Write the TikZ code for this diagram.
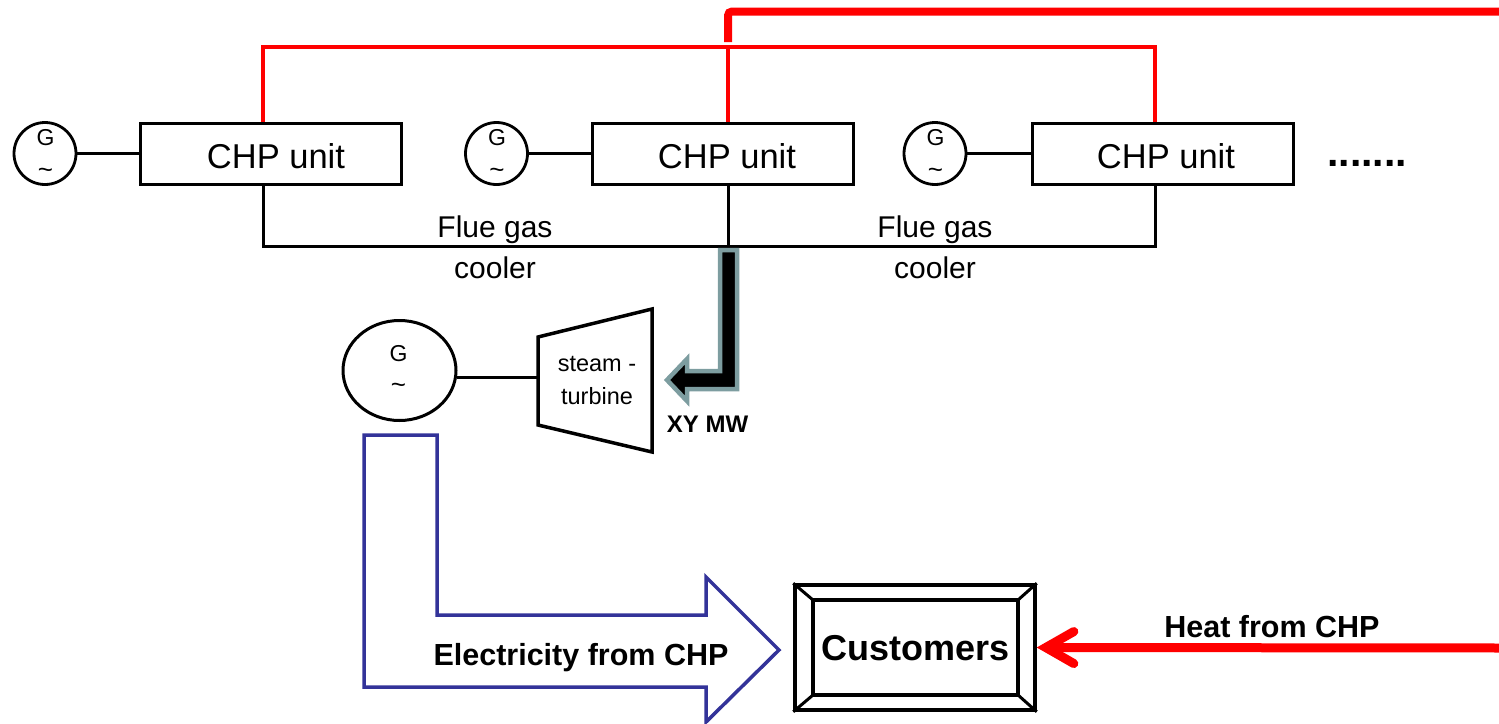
\documentclass[tikz,border=0pt]{standalone}
\usepackage{fontspec}
\setmainfont{Liberation Sans}
\usetikzlibrary{shapes.geometric,arrows.meta}
\definecolor{arrowgray}{RGB}{125,157,160}
\definecolor{elblue}{RGB}{51,51,153}
\begin{document}
\begin{tikzpicture}[x=1pt,y=-1pt,
  blk/.style={line width=3pt},
  unitbox/.style={draw, line width=3pt, minimum width=261pt, minimum height=61pt, inner sep=0pt},
  gen/.style={draw, circle, line width=2.8pt, minimum size=62pt, inner sep=0pt},
  biggen/.style={draw, ellipse, line width=3pt, minimum width=113pt, minimum height=100pt, inner sep=0pt},
  unitlbl/.style={inner sep=0pt, anchor=base, font=\fontsize{34.5}{40}\selectfont},
  glbl/.style={inner sep=0pt, anchor=base, font=\fontsize{23}{27}\selectfont},
  tildelbl/.style={inner sep=0pt, anchor=center, font=\fontsize{26}{30}\selectfont},
  tlbl/.style={inner sep=0pt, anchor=base, font=\fontsize{23.5}{28}\selectfont},
  flbl/.style={inner sep=0pt, anchor=base, font=\fontsize{30}{36}\selectfont},
  blbl/.style={inner sep=0pt, anchor=base, font=\bfseries\fontsize{30.5}{36}\selectfont},
  redthin/.style={draw=red, line width=3.5pt},
  redthick/.style={draw=red, line width=8pt, rounded corners=4pt},
]
\useasboundingbox (0,0) rectangle (1499,723);

% generators and CHP units
\node[gen] (g1) at (45,153.5) {};
\node[gen] (g2) at (496.5,153.5) {};
\node[gen] (g3) at (935,153.5) {};
\node[unitbox] (chp1) at (270.5,153.5) {};
\node[unitbox] (chp2) at (722.5,153.5) {};
\node[unitbox] (chp3) at (1162.5,153.5) {};
\node[unitlbl] (chp1t) at (276,168) {CHP unit};
\node[unitlbl] (chp2t) at (727,168) {CHP unit};
\node[unitlbl] (chp3t) at (1166,168) {CHP unit};
\foreach \g/\x in {g1/45.5, g2/497, g3/935.5}{
  \node[glbl] (\g G) at (\x,145) {G};
  \node[tildelbl] (\g T) at (\x,173) {\textasciitilde};
}
\node[inner sep=0pt, anchor=base west, font=\bfseries\fontsize{41}{46}\selectfont] (dots) at (1327,166) {.......};

\draw[blk] (g1.east) -- (chp1.west);
\draw[blk] (g2.east) -- (chp2.west);
\draw[blk] (g3.east) -- (chp3.west);

% flue gas line
\coordinate (f1) at (263,246.5);
\coordinate (fm) at (728,246.5);
\coordinate (f3) at (1155,246.5);
\draw[blk] (chp1.south -| f1) -- (f1) -- (f3) -- (chp3.south -| f3);
\draw[blk] (chp2.south -| fm) -- (fm);
\node[flbl] (fg1) at (495,237) {Flue gas};
\node[flbl] (co1) at (495,278) {cooler};
\node[flbl] (fg2) at (935,237) {Flue gas};
\node[flbl] (co2) at (935,278) {cooler};

% red heat lines
\coordinate (r1) at (263,47);
\coordinate (rm) at (728,47);
\coordinate (r3) at (1155,47);
\draw[redthin] (chp1.north -| r1) -- (r1) -- (r3) -- (chp3.north -| r3);
\draw[redthin] (chp2.north -| rm) -- (rm);
\coordinate (hstart) at (728,42);
\coordinate (hend) at (1503,11.5);
\draw[redthick] (hstart) -- (hstart |- hend) -- (hend);

% steam arrow (block arrow)
\draw[line width=4.5pt, draw=arrowgray, fill=black, line join=miter]
  (720,250) -- (737,250) -- (737,389) -- (687,389) -- (687,401) -- (667,380)
  -- (687,359) -- (687,371) -- (720,371) -- cycle;
\node[inner sep=0pt, anchor=base, font=\bfseries\fontsize{24}{28}\selectfont] (xy) at (707.5,432) {XY MW};

% steam turbine
\draw[line width=3.5pt, line join=miter] (538,337) -- (652,309) -- (652,452) -- (538,425) -- cycle;
\coordinate (turbL) at (538,378);
\node[tlbl] (st1) at (597,371) {steam -};
\node[tlbl] (st2) at (597,404) {turbine};

% big generator
\node[biggen] (bg) at (399.5,370.5) {};
\node[glbl] (bgG) at (398.5,361) {G};
\node[tildelbl] (bgT) at (398.5,388) {\textasciitilde};
\draw[blk] (bg.-7.5) -- (bg.-7.5 -| turbL);

% electricity arrow
\draw[line width=3.5pt, draw=elblue, line join=miter]
  (364,435) -- (437,435) -- (437,615) -- (706,615) -- (706,577) -- (779,650)
  -- (706,722) -- (706,687) -- (364,687) -- cycle;
\node[blbl] (elt) at (581,665) {Electricity from CHP};

% customers
\node[draw, line width=3.5pt, minimum width=240pt, minimum height=125pt, inner sep=0pt] (cust) at (915,647.5) {};
\coordinate (ci1) at (813,600);
\coordinate (ci2) at (1018,695);
\draw[line width=3.5pt] (ci1) rectangle (ci2);
\draw[line width=3pt] (cust.north west) -- (ci1);
\draw[line width=3pt] (cust.north east) -- (ci1 -| ci2);
\draw[line width=3pt] (cust.south east) -- (ci2);
\draw[line width=3pt] (cust.south west) -- (ci1 |- ci2);
\node[inner sep=0pt, anchor=base, font=\bfseries\fontsize{36}{42}\selectfont] (custt) at (916,660) {Customers};

% heat arrow
\coordinate (hsrc) at (1503,648);
\draw[red, line width=9pt, -{Straight Barb[length=28pt, width=32pt, line cap=round]}] (hsrc) -- (cust.east);
\node[blbl] (heatt) at (1272,637) {Heat from CHP};
\end{tikzpicture}
\end{document}
